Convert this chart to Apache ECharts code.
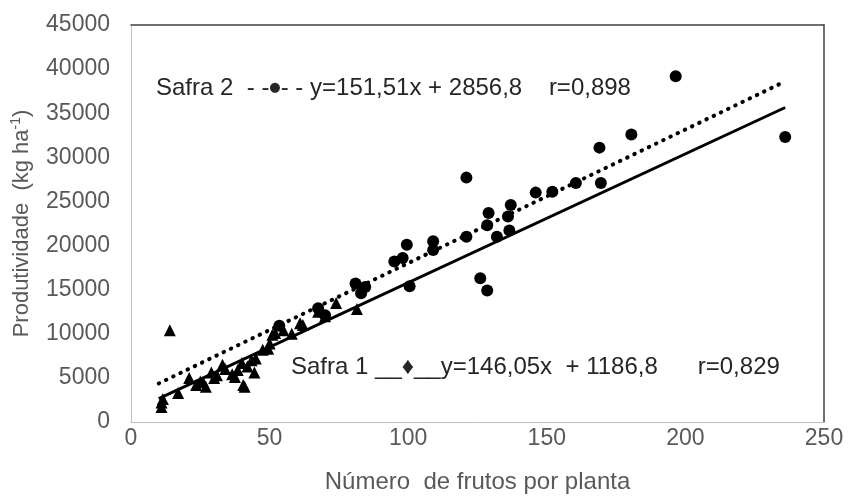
<!DOCTYPE html>
<html>
<head>
<meta charset="utf-8">
<script src="https://cdn.jsdelivr.net/npm/echarts@6/dist/echarts.min.js"></script>
<style>
  html, body { margin: 0; padding: 0; background: #fff; }
  #chart { width: 849px; height: 497px; }
</style>
</head>
<body>
<div id="chart"></div>
<script>
// Safra 1 (triangles): [frutos, produtividade]
const safra1 = [
  [11, 1700], [11, 2200], [11.5, 2600], [17, 3300], [21, 5000], [23.5, 4200],
  [25, 4600], [26, 4500], [27, 4000], [29, 5600], [30, 5000], [31, 5300],
  [33, 6500], [34, 6000], [36.5, 5400], [37.5, 5100], [38.5, 5900], [40, 6700],
  [40.5, 4200], [41, 4000], [42, 6300], [43.5, 7000], [44.5, 5600], [45, 7200],
  [47.5, 8200], [49.5, 8300], [50, 8900], [51, 9900], [52, 10100], [55, 10400],
  [58, 10000], [61, 11200], [62, 11000], [67.5, 12500], [70, 12000], [74, 13500],
  [81.5, 12800], [14, 10400]
];
// Safra 2 (circles)
const safra2 = [
  [53.5, 10900], [67.5, 12900], [70, 12100], [81, 15700], [84.5, 15300], [83, 14600],
  [95, 18200], [98, 18600], [99.5, 20100], [100.5, 15400], [109, 20500], [109, 19500],
  [121, 21000], [121, 27700], [126, 16300], [128.5, 14900], [128.5, 22300], [129, 23700],
  [132, 21000], [136, 23300], [137, 24600], [136.5, 21700], [146, 26000], [152, 26100],
  [160.5, 27100], [169, 31100], [169.5, 27100], [180.5, 32600], [196.5, 39200], [236, 32300]
];
// trend line end points
const trend1 = [[10, 2650], [236, 35650]];
const trend2 = [[10, 4370], [236, 38610]];
const xTicks = [0, 50, 100, 150, 200, 250];
const yTicks = [0, 5000, 10000, 15000, 20000, 25000, 30000, 35000, 40000, 45000];

const labelFont = { color: '#595959', fontSize: 23, fontFamily: 'Liberation Sans' };
const noteFont = { fill: '#262626', fontSize: 24, fontFamily: 'Liberation Sans' };
const chart = echarts.init(document.getElementById('chart'));

chart.setOption({
  animation: false,
  backgroundColor: '#fff',
  grid: { left: 131, right: 25, top: 25, bottom: 75, containLabel: false, outerBoundsMode: 'none' },
  xAxis: [{
    type: 'value', min: xTicks[0], max: xTicks[xTicks.length - 1], interval: 50,
    axisLine: { lineStyle: { color: '#bfbfbf', width: 1 } },
    axisTick: { show: false }, splitLine: { show: false },
    axisLabel: Object.assign({ margin: 5, formatter: v => String(v) }, labelFont),
    name: 'Número  de frutos por planta', nameLocation: 'middle', nameGap: 48,
    nameTextStyle: { color: '#595959', fontSize: 24, fontFamily: 'Liberation Sans' }
  }, {
    type: 'value', position: 'top', min: 0, max: 250,
    axisLine: { onZero: false, lineStyle: { color: '#404040', width: 1.5 } },
    axisTick: { show: false }, axisLabel: { show: false }, splitLine: { show: false }
  }],
  yAxis: [{
    type: 'value', min: yTicks[0], max: yTicks[yTicks.length - 1], interval: 5000,
    axisLine: { show: true, onZero: false, lineStyle: { color: '#bfbfbf', width: 1 } },
    axisTick: { show: false }, splitLine: { show: false },
    axisLabel: Object.assign({ margin: 21, formatter: v => String(v) }, labelFont),
    name: '{a|Produtividade  (kg ha}{s|-1}{a|)}', nameLocation: 'middle', nameGap: 96,
    nameRotate: 90,
    nameTextStyle: {
      rich: {
        a: { color: '#595959', fontSize: 22, fontFamily: 'Liberation Sans', lineHeight: 26 },
        s: { color: '#595959', fontSize: 14, fontFamily: 'Liberation Sans', verticalAlign: 'top', lineHeight: 26 }
      }
    }
  }, {
    type: 'value', position: 'right', min: 0, max: 45000,
    axisLine: { show: true, onZero: false, lineStyle: { color: '#404040', width: 1.5 } },
    axisTick: { show: false }, axisLabel: { show: false }, splitLine: { show: false }
  }],
  series: [{
    name: 'Safra 1', type: 'scatter', data: safra1,
    symbol: 'triangle', symbolSize: 12, itemStyle: { color: '#000', opacity: 1 }
  }, {
    name: 'Safra 2', type: 'scatter', data: safra2,
    symbol: 'circle', symbolSize: 12, itemStyle: { color: '#000', opacity: 1 }
  }, {
    name: 'Tendência 1', type: 'line', data: trend1, symbol: 'none',
    lineStyle: { color: '#000', width: 3 }
  }, {
    name: 'Tendência 2', type: 'line', data: trend2, symbol: 'none',
    lineStyle: { color: '#000', width: 4, type: [0.5, 7.5], cap: 'round' }
  }],
  graphic: [{
    type: 'text', left: 156, top: 76,
    style: {
      text: '{t|Safra 2  - -}{d|\u25CF}{t|- - y=151,51x + 2856,8    r=0,898}',
      rich: {
        t: { fill: '#262626', fontSize: 24, fontFamily: 'Liberation Sans' },
        d: { fill: '#262626', fontSize: 13, fontFamily: 'DejaVu Sans' }
      }
    }
  }, {
    type: 'text', left: 291, top: 355,
    style: Object.assign({ text: 'Safra 1 __\u2666__y=146,05x  + 1186,8      r=0,829' }, noteFont)
  }]
});
</script>
</body>
</html>
